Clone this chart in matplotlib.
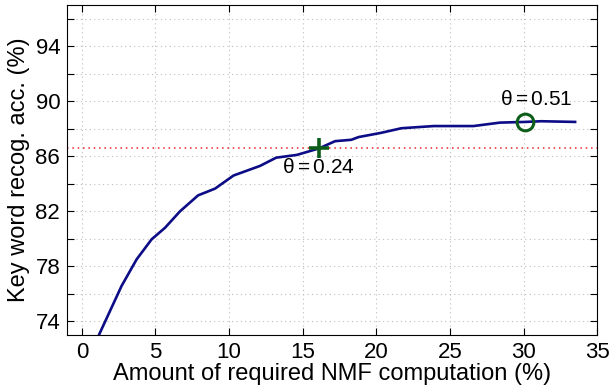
import matplotlib
matplotlib.use('Agg')
import matplotlib.pyplot as plt
import numpy as np

# NMF computation (%) vs key word recognition accuracy (%)
comp = [1.16, 2.7, 3.72, 4.74, 5.65, 6.67, 7.9, 9.05, 10.3, 12.1, 13.2, 14.6,
        16.1, 17.2, 18.3, 18.8, 20.3, 21.7, 23.9, 26.6, 28.4, 30.1, 31.2, 33.5]
acc = [73.0, 76.57, 78.5, 79.96, 80.8, 82.0, 83.16, 83.65, 84.6, 85.3, 85.9, 86.1,
       86.57, 87.1, 87.2, 87.4, 87.7, 88.04, 88.2, 88.2, 88.45, 88.5, 88.55, 88.5]

ref_acc = 86.6
theta_lo = (16.1, 86.57, r'$\theta = 0.24$')
theta_hi = (30.1, 88.5, r'$\theta = 0.51$')

xticks = [0, 5, 10, 15, 20, 25, 30, 35]
yticks_major = [74, 78, 82, 86, 90, 94]

plt.rcParams['font.family'] = ['Liberation Sans', 'DejaVu Sans']
plt.rcParams['mathtext.fontset'] = 'custom'
plt.rcParams['mathtext.rm'] = 'Liberation Sans'
plt.rcParams['mathtext.it'] = 'Liberation Sans'

fig = plt.figure(figsize=(6.1, 3.9), dpi=100)
ax = fig.add_axes([0.11, 0.141, 0.869, 0.846])

ax.plot(comp, acc, color='#0c0c86', lw=1.9, zorder=3)
ax.axhline(ref_acc, color='#e8242a', lw=1.1, ls=(0, (1, 2.5)), zorder=2)

ax.plot(theta_lo[0], theta_lo[1], marker='+', color='#0d5e1a', ms=14, mew=2.6, zorder=4)
ax.plot(theta_hi[0], theta_hi[1], marker='o', mfc='none', mec='#0d5e1a', ms=12, mew=2.2, zorder=4)

ax.text(13.6, 85.2, theta_lo[2], fontsize=15, va='center', ha='left')
ax.text(28.4, 90.15, theta_hi[2], fontsize=15, va='center', ha='left')

ax.set_xlim(-1, 35)
ax.set_ylim(73, 97)
ax.set_xticks(xticks)
ax.set_yticks(np.arange(74, 97, 2))
ax.set_yticklabels([str(v) if v in yticks_major else '' for v in np.arange(74, 97, 2)])

ax.grid(True, color='#bdbdbd', ls=(0, (1, 3)), lw=0.8)
ax.tick_params(direction='in', top=True, right=True, labelsize=16, length=5, width=0.8, pad=5)
for s in ax.spines.values():
    s.set_linewidth(0.8)

ax.set_xlabel('Amount of required NMF computation (%)', fontsize=17, labelpad=0)
ax.set_ylabel('Key word recog. acc. (%)', fontsize=17, labelpad=4)

fig.savefig('out.png', dpi=100)
